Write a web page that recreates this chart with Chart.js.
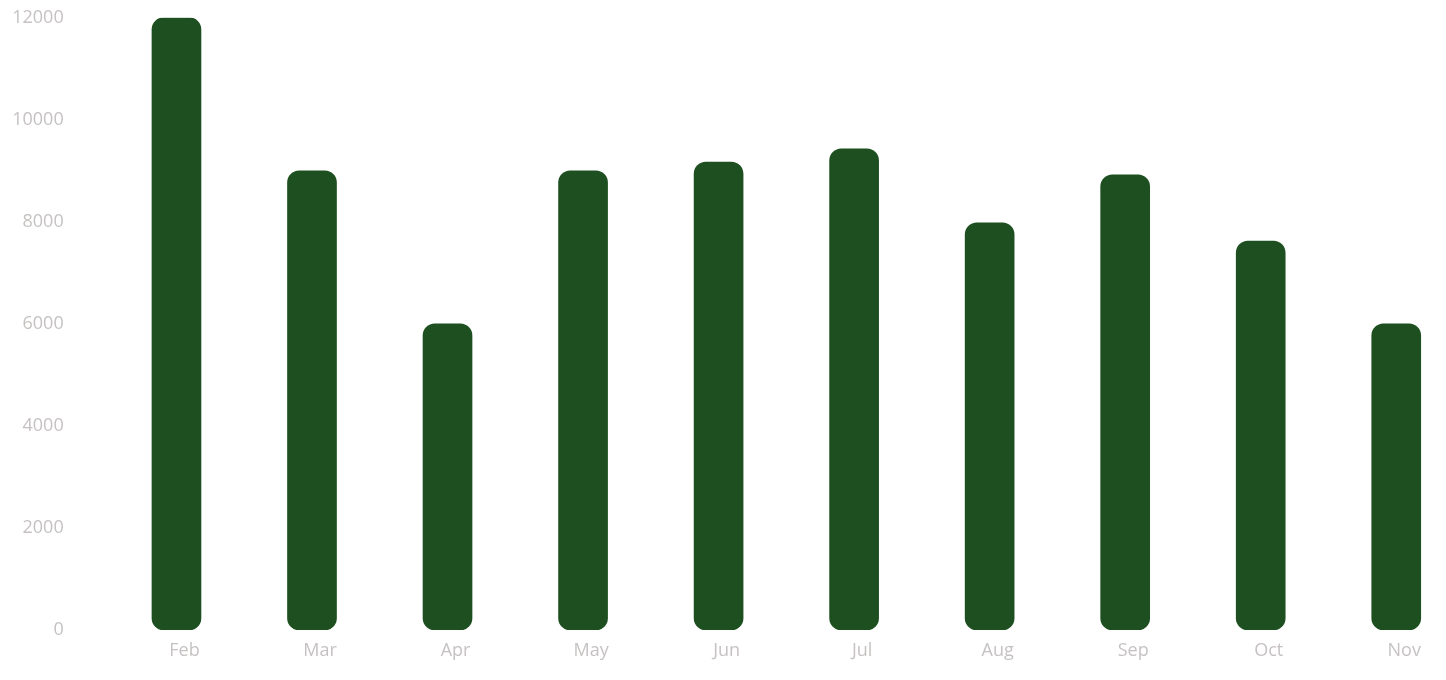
<!DOCTYPE html>
<html>
<head>
<meta charset="utf-8">
<script src="https://cdn.jsdelivr.net/npm/chart.js@4"></script>
<style>
  html, body { margin: 0; padding: 0; background: #ffffff; overflow: hidden; }
  #wrap { position: relative; width: 1464px; height: 680px; }
</style>
</head>
<body>
<div id="wrap"><canvas id="c"></canvas></div>
<script>
const categories = ['Feb', 'Mar', 'Apr', 'May', 'Jun', 'Jul', 'Aug', 'Sep', 'Oct', 'Nov'];
const salesValues = [12000, 9000, 6000, 9000, 9170, 9430, 7980, 8920, 7620, 6000];
const yTickValues = [0, 2000, 4000, 6000, 8000, 10000, 12000];

const labelColor = '#c6c2c2';
const barColor = '#1d4f20';
const fontSpec = { family: '"Open Sans", "DejaVu Sans", sans-serif', size: 18 };

const chart = new Chart(document.getElementById('c'), {
  type: 'bar',
  data: {
    labels: categories,
    datasets: [{
      data: salesValues,
      backgroundColor: barColor,
      borderWidth: 0,
      borderRadius: 12,
      borderSkipped: false,
      barThickness: 49
    }]
  },
  options: {
    responsive: true,
    maintainAspectRatio: false,
    animation: false,
    layout: { padding: { top: 17.7, right: 0, bottom: 8.4, left: 0 } },
    plugins: { legend: { display: false }, tooltip: { enabled: false } },
    scales: {
      x: {
        grid: { display: false, drawTicks: false },
        border: { display: false },
        ticks: { color: labelColor, font: fontSpec, padding: 10, labelOffset: 8, maxRotation: 0 }
      },
      y: {
        min: 0,
        max: 12000,
        grid: { display: false, drawTicks: false },
        border: { display: false },
        afterBuildTicks: (s) => { s.ticks = yTickValues.map(v => ({ value: v })); },
        ticks: { color: labelColor, font: fontSpec, padding: 45, callback: (v) => String(v) },
        afterFit: (s) => { s.width = 108.7; s.paddingTop = 0; s.paddingBottom = 0; }
      }
    }
  }
});
</script>
</body>
</html>
